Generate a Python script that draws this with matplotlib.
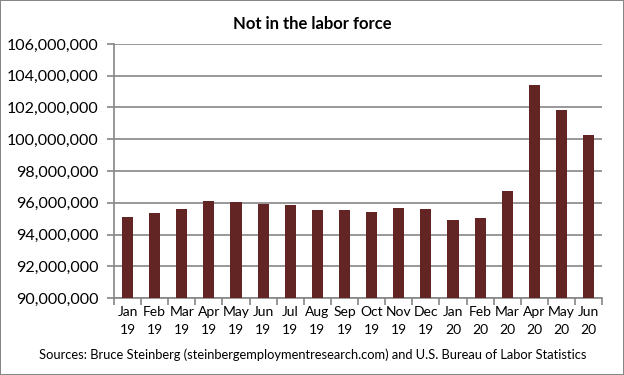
import numpy as np
import matplotlib
matplotlib.use("Agg")
import matplotlib.pyplot as plt
from matplotlib.ticker import FuncFormatter, MultipleLocator

# monthly values (millions)
months = ["Jan", "Feb", "Mar", "Apr", "May", "Jun", "Jul", "Aug", "Sep",
          "Oct", "Nov", "Dec", "Jan", "Feb", "Mar", "Apr", "May", "Jun"]
years = ["19"] * 12 + ["20"] * 6
values_m = [95.08, 95.33, 95.58, 96.08, 96.02, 95.90, 95.83, 95.52, 95.52,
            95.40, 95.64, 95.58, 94.89, 95.02, 96.77, 103.39, 101.83, 100.27]

values = np.array(values_m) * 1e6
labels = [f"{m}\n{y}" for m, y in zip(months, years)]

plt.rcParams['font.family'] = ['Lato', 'DejaVu Sans']
GRID = "#868686"

fig = plt.figure(figsize=(6.24, 3.75), dpi=100)
fig.patch.set_edgecolor(GRID)
fig.patch.set_linewidth(1.2)
ax = fig.add_axes([0.1827, 0.2053, 0.7823, 0.6774])

x = np.arange(len(values))
ax.bar(x, values, width=0.41, color="#632523", zorder=3)

ax.set_xlim(-0.5, len(values) - 0.5)
ax.set_ylim(90e6, 106e6)
ax.yaxis.set_major_locator(MultipleLocator(2e6))
ax.yaxis.set_major_formatter(FuncFormatter(lambda v, p: f"{v:,.0f}"))
ax.grid(axis="y", color=GRID, linewidth=1.2, zorder=0)

# ticks at category boundaries, labels at centres
ax.set_xticks(np.arange(len(values) + 1) - 0.5)
ax.set_xticklabels([])
ax.set_xticks(x, minor=True)
ax.set_xticklabels(labels, minor=True, fontsize=10, linespacing=1.6)
ax.tick_params(axis="x", which="major", length=5, color=GRID, width=1.2)
ax.tick_params(axis="x", which="minor", length=0, pad=6)
ax.tick_params(axis="y", length=5, color=GRID, width=1.2, labelsize=11.5, pad=6)

for s in ["top", "right"]:
    ax.spines[s].set_visible(False)
for s in ["left", "bottom"]:
    ax.spines[s].set_color(GRID)
    ax.spines[s].set_linewidth(1.2)

fig.text(0.5, 0.936, "Not in the labor force", ha="center", va="center",
         fontsize=12, fontweight="bold")
fig.text(0.502, 0.053,
         "Sources: Bruce Steinberg (steinbergemploymentresearch.com) and U.S. Bureau of Labor Statistics",
         ha="center", va="center", fontsize=9.3)

fig.savefig("out.png", dpi=100, edgecolor=fig.get_edgecolor())
